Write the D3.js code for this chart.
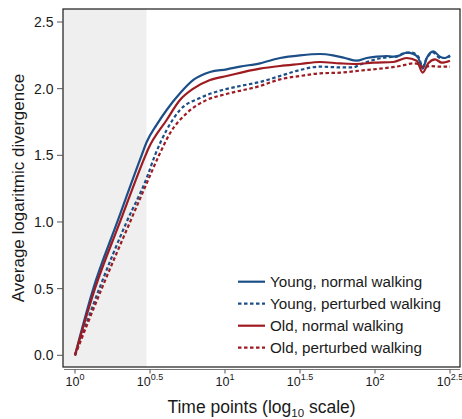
<!DOCTYPE html>
<html>
<head>
<meta charset="utf-8">
<script src="https://cdn.jsdelivr.net/npm/d3@7"></script>
<style>
  body { margin: 0; background: #fff; }
  text { font-family: "Liberation Sans", Arial, sans-serif; fill: #1a1a1a; }
</style>
</head>
<body>
<script>
// exponents of the time axis (time = 10^e) and the divergence read at each
const youngNormalLog = [0, 0.122, 0.282, 0.444, 0.478, 0.545, 0.611, 0.7, 0.789, 0.9, 1.011, 1.1, 1.233, 1.367, 1.5, 1.633, 1.72, 1.8, 1.878, 1.944, 2.011, 2.078, 2.122, 2.167, 2.211, 2.256, 2.289, 2.318, 2.345, 2.389, 2.433, 2.467, 2.5];
const youngNormal = [0, 0.5, 1.0, 1.5, 1.6, 1.73, 1.84, 1.965, 2.065, 2.125, 2.145, 2.165, 2.19, 2.23, 2.25, 2.26, 2.25, 2.23, 2.21, 2.23, 2.24, 2.245, 2.24, 2.25, 2.27, 2.26, 2.23, 2.15, 2.23, 2.28, 2.24, 2.23, 2.25];

const youngPerturbedLog = [0, 0.162, 0.344, 0.478, 0.533, 0.611, 0.7, 0.833, 0.967, 1.1, 1.233, 1.367, 1.5, 1.633, 1.767, 1.856, 1.9, 1.989, 2.078, 2.144, 2.189, 2.245, 2.289, 2.318, 2.345, 2.389, 2.433, 2.478, 2.5];
const youngPerturbed = [0, 0.5, 1.0, 1.33, 1.5, 1.69, 1.84, 1.93, 1.985, 2.02, 2.05, 2.095, 2.14, 2.165, 2.16, 2.16, 2.18, 2.215, 2.235, 2.24, 2.265, 2.27, 2.24, 2.165, 2.23, 2.27, 2.23, 2.23, 2.245];

const oldNormalLog = [0, 0.133, 0.3, 0.47, 0.485, 0.611, 0.7, 0.789, 0.9, 1.011, 1.233, 1.367, 1.5, 1.633, 1.767, 1.878, 1.989, 2.122, 2.211, 2.278, 2.318, 2.355, 2.4, 2.445, 2.5];
const oldNormal = [0, 0.5, 1.0, 1.5, 1.54, 1.765, 1.915, 2.0, 2.065, 2.095, 2.15, 2.17, 2.185, 2.2, 2.19, 2.185, 2.195, 2.2, 2.23, 2.21, 2.12, 2.19, 2.22, 2.195, 2.21];

const oldPerturbedLog = [0, 0.178, 0.367, 0.478, 0.56, 0.633, 0.744, 0.878, 1.011, 1.233, 1.367, 1.5, 1.633, 1.767, 1.9, 2.033, 2.167, 2.256, 2.3, 2.322, 2.367, 2.433, 2.5];
const oldPerturbed = [0, 0.5, 1.0, 1.29, 1.5, 1.665, 1.815, 1.915, 1.96, 2.02, 2.07, 2.095, 2.115, 2.12, 2.135, 2.15, 2.17, 2.19, 2.18, 2.16, 2.17, 2.165, 2.165];

const xTickExponents = ["0", "0.5", "1", "1.5", "2", "2.5"];
const yTicks = [0, 0.5, 1.0, 1.5, 2.0, 2.5];
const shadeEnd = 3; // time points up to 3 are shaded

const series = [
  { name: "Young, normal walking", logs: youngNormalLog, vals: youngNormal, color: "#1c4f88", dash: null },
  { name: "Young, perturbed walking", logs: youngPerturbedLog, vals: youngPerturbed, color: "#1c4f88", dash: "3.5,2.5" },
  { name: "Old, normal walking", logs: oldNormalLog, vals: oldNormal, color: "#9e1b22", dash: null },
  { name: "Old, perturbed walking", logs: oldPerturbedLog, vals: oldPerturbed, color: "#9e1b22", dash: "3.5,2.5" }
];

const width = 462, height = 419;
const box = { left: 63, right: 460, top: 9, bottom: 367 };

const svg = d3.select("body").append("svg")
  .attr("width", width)
  .attr("height", height);

const x = d3.scaleLog().domain([1, Math.pow(10, 2.5)]).range([75, 450]);
const y = d3.scaleLinear().domain([0, 2.5]).range([355.3, 22]);

// shaded early region
svg.append("rect")
  .attr("x", box.left)
  .attr("y", box.top)
  .attr("width", x(shadeEnd) - box.left)
  .attr("height", box.bottom - box.top)
  .attr("fill", "#efefef");

// lines
const line = d3.line()
  .x(d => x(d.t))
  .y(d => y(d.v))
  .curve(d3.curveMonotoneX);

series.forEach(s => {
  const pts = s.logs.map((e, i) => ({ t: Math.pow(10, e), v: s.vals[i] }));
  svg.append("path")
    .datum(pts)
    .attr("fill", "none")
    .attr("stroke", s.color)
    .attr("stroke-width", 2.2)
    .attr("stroke-dasharray", s.dash)
    .attr("d", line);
});

// frame
svg.append("rect")
  .attr("x", box.left)
  .attr("y", box.top)
  .attr("width", box.right - box.left)
  .attr("height", box.bottom - box.top)
  .attr("fill", "none")
  .attr("stroke", "#1a1a1a")
  .attr("stroke-width", 1.2);

// y axis ticks and labels
const yAxis = svg.append("g");
yTicks.forEach(v => {
  yAxis.append("line")
    .attr("x1", box.left - 6).attr("x2", box.left)
    .attr("y1", y(v)).attr("y2", y(v))
    .attr("stroke", "#555").attr("stroke-width", 1);
  yAxis.append("text")
    .attr("x", box.left - 9.5)
    .attr("y", y(v))
    .attr("dy", "0.35em")
    .attr("text-anchor", "end")
    .attr("font-size", 14)
    .text(d3.format(".1f")(v));
});

// x axis (offset below the frame)
const xAxisY = 369.5;
const xAxis = svg.append("g");
xAxis.append("line")
  .attr("x1", box.left + 1).attr("x2", box.right)
  .attr("y1", xAxisY).attr("y2", xAxisY)
  .attr("stroke", "#777").attr("stroke-width", 1);
xTickExponents.forEach(e => {
  const px = x(Math.pow(10, +e));
  xAxis.append("line")
    .attr("x1", px).attr("x2", px)
    .attr("y1", xAxisY).attr("y2", xAxisY + 4)
    .attr("stroke", "#555").attr("stroke-width", 1);
  const t = xAxis.append("text")
    .attr("x", px)
    .attr("y", 385.5)
    .attr("text-anchor", "middle")
    .attr("font-size", 12.5);
  t.append("tspan").text("10");
  t.append("tspan").attr("dy", -5.5).attr("font-size", 9).text(e);
});

// axis titles
svg.append("text")
  .attr("transform", `translate(24,${(box.top + box.bottom) / 2}) rotate(-90)`)
  .attr("text-anchor", "middle")
  .attr("font-size", 17)
  .text("Average logaritmic divergence");

const xt = svg.append("text")
  .attr("x", (box.left + box.right) / 2)
  .attr("y", 413)
  .attr("text-anchor", "middle")
  .attr("font-size", 17.5);
xt.append("tspan").text("Time points (log");
xt.append("tspan").attr("dy", 4).attr("font-size", 11.5).text("10");
xt.append("tspan").attr("dy", -4).text(" scale)");

// legend
const legend = svg.append("g");
series.forEach((s, i) => {
  const ly = 281.7 + i * 22;
  legend.append("line")
    .attr("x1", 238).attr("x2", 265)
    .attr("y1", ly).attr("y2", ly)
    .attr("stroke", s.color)
    .attr("stroke-width", 2.2)
    .attr("stroke-dasharray", s.dash);
  legend.append("text")
    .attr("x", 270)
    .attr("y", ly)
    .attr("dy", "0.35em")
    .attr("font-size", 15.2)
    .text(s.name);
});
</script>
</body>
</html>
